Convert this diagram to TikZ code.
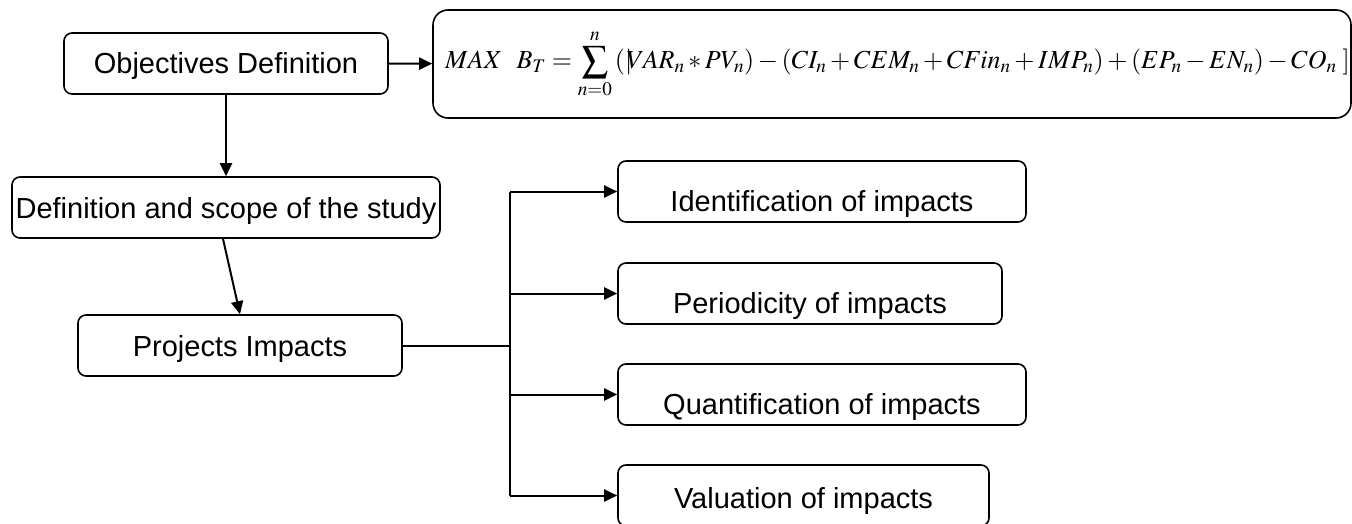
\documentclass[tikz,border=0pt]{standalone}
\usepackage{mathptmx}
\usepackage{fontspec}
\setmainfont{Liberation Sans}
\usetikzlibrary{arrows.meta}

\tikzset{
	box/.style={draw,line width=1.6pt,rounded corners=8pt,minimum height=61pt,inner sep=0pt,
		font=\fontsize{29}{34}\selectfont,text height=21pt,text depth=0pt},
	impact/.style={box,text height=40pt},
	link/.style={line width=2pt,-{Triangle[length=13pt,width=12pt]}},
}

\begin{document}
\begin{tikzpicture}[x=1pt,y=-1pt]
	\useasboundingbox (0,0) rectangle (1352,524);
	\node[box,minimum width=324pt] (obj) at (226,63.5) {Objectives Definition};
	\node[box,rounded corners=15pt,minimum width=918pt,minimum height=108pt] (goal) at (892,64) {};
	\node[anchor=west,inner sep=0pt,font=\fontsize{26}{31}\selectfont] (eq) at (445,64)
		{$\displaystyle MAX\ \ B_T=\sum_{n=0}^{n}\,(\vert\mkern-4mu VAR_n*PV_n)-(CI_n+CEM_n+CFin_n+IMP_n)+(EP_n-EN_n)-CO_n\,\,]$};
	\node[box,minimum width=428pt] (scope) at (226,207.5) {Definition and scope of the study};
	\node[box,minimum width=324pt] (proj) at (240,345.5) {Projects Impacts};
	\node[impact,minimum width=408pt] (ident) at (822,191.5) {Identification of impacts};
	\node[impact,minimum width=384pt] (period) at (810,293.5) {Periodicity of impacts};
	\node[impact,minimum width=408pt] (quant) at (822,394.5) {Quantification of impacts};
	\node[impact,minimum width=371pt,text height=25pt] (valu) at (803.5,495.5) {Valuation of impacts};
	\coordinate (fork) at (510,345.5);
	\draw[link] (obj) -- (goal);
	\draw[link] (obj.south) -- (scope.north);
	\draw[link] ([xshift=-3pt]scope.south) -- (proj.north);
	\draw[line width=2pt] (proj.east) -- (fork);
	\draw[line width=2pt] (fork |- ident.west) -- (fork |- valu.west);
	\foreach \n in {ident,period,quant,valu}
		\draw[link] (fork |- \n.west) -- (\n.west);
\end{tikzpicture}
\end{document}
